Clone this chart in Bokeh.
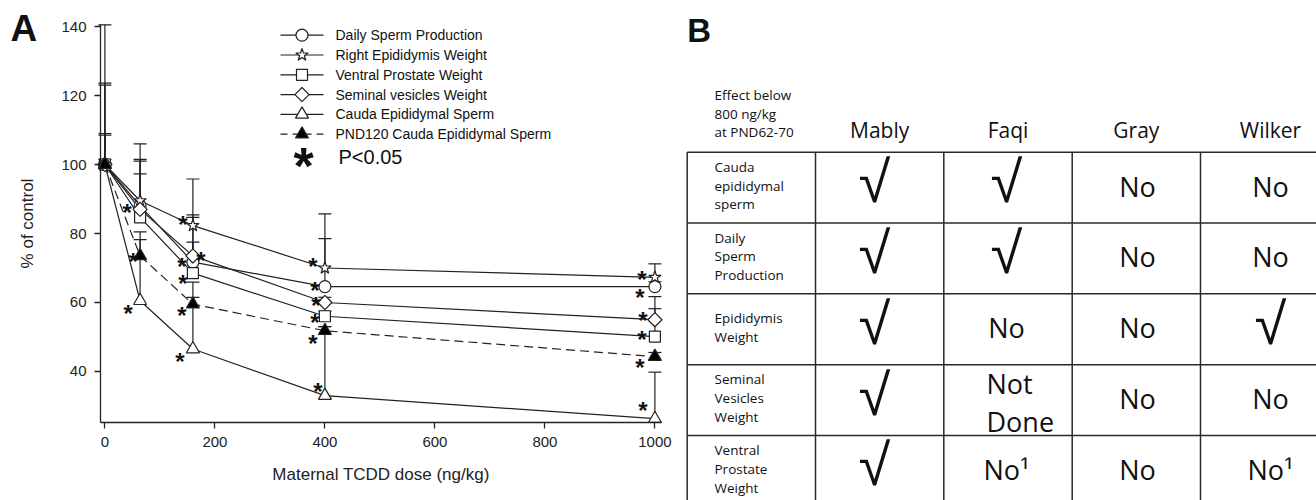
import math
from bokeh.plotting import figure
from bokeh.models import Range1d, Whisker, TeeHead, ColumnDataSource, FixedTicker
from bokeh.embed import file_html
from bokeh.resources import INLINE
from bokeh.core.properties import value

# ---------------- data (panel A) ----------------
doses = [0, 64, 160, 400, 1000]

daily_sperm = [100.0, 88.0, 71.7, 64.6, 64.6]
epididymis = [100.0, 89.5, 82.3, 70.0, 67.3]
prostate = [100.0, 84.7, 68.5, 56.0, 50.1]
vesicles = [100.0, 87.0, 73.5, 60.0, 55.0]
cauda = [100.0, 60.5, 46.5, 33.0, 26.3]
cauda_pnd120 = [100.0, 73.5, 59.5, 51.8, 44.3]

# upper ends of the error bars
daily_upper = [108.5, 101.5, 84.7, 78.5, 66.0]
epididymis_upper = [109.0, 106.0, 95.8, 85.7, 71.2]
prostate_upper = [123.0, 97.3, 77.5, 57.5, 58.2]
vesicles_upper = [101.5, 101.0, 85.4, 61.5, 61.7]
cauda_upper = [140.5, 78.2, 65.9, 53.0, 39.8]
pnd120_upper = [123.6, 80.5, 61.5, 53.0, 45.5]

# significance (P<0.05) per dose
daily_sig = [0, 0, 1, 1, 1]
epididymis_sig = [0, 0, 1, 1, 1]
prostate_sig = [0, 0, 1, 1, 1]
vesicles_sig = [0, 1, 1, 1, 1]
cauda_sig = [0, 1, 1, 1, 1]
pnd120_sig = [0, 1, 1, 1, 1]

series_names = ["Daily Sperm Production", "Right Epididymis Weight",
                "Ventral Prostate Weight", "Seminal vesicles Weight",
                "Cauda Epididymal Sperm", "PND120 Cauda Epididymal Sperm"]
x_ticks = [0, 200, 400, 600, 800, 1000]
y_ticks = [40, 60, 80, 100, 120, 140]

# ---------------- data (panel B) ----------------
header_note = ["Effect below", "800 ng/kg", "at PND62-70"]
studies = ["Mably", "Faqi", "Gray", "Wilker"]
endpoints = [["Cauda", "epididymal", "sperm"],
             ["Daily", "Sperm", "Production"],
             ["Epididymis", "Weight"],
             ["Seminal", "Vesicles", "Weight"],
             ["Ventral", "Prostate", "Weight"]]
mably = ["√", "√", "√", "√", "√"]
faqi = ["√", "√", "No", "Not\nDone", "No¹"]
gray = ["No", "No", "No", "No", "No"]
wilker = ["No", "No", "√", "No", "No¹"]

# ================= layout constants =================
W, H = 1316, 500
A_LEFT, A_RIGHT, A_TOP, A_BOTTOM = 100, 661, 24, 422
XMIN, XMAX, YMIN, YMAX = -8, 1012, 25.2, 140.6
kx = (XMAX - XMIN) / (A_RIGHT - A_LEFT)
ky = (YMAX - YMIN) / (A_BOTTOM - A_TOP)

FONT = "Liberation Sans"
TFONT = "Open Sans"
INK = "#222222"

p = figure(width=W, height=H,
           x_range=Range1d(XMIN - A_LEFT * kx, XMAX + (W - A_RIGHT) * kx),
           y_range=Range1d(YMIN - (H - A_BOTTOM) * ky, YMAX + A_TOP * ky),
           output_backend="svg", toolbar_location=None,
           min_border=0, min_border_left=0, min_border_right=0,
           min_border_top=0, min_border_bottom=0)
p.extra_x_ranges = {"px": Range1d(0, W)}
p.extra_y_ranges = {"px": Range1d(H, 0)}
p.outline_line_color = None
p.grid.grid_line_color = None
p.background_fill_color = "white"
p.border_fill_color = "white"

for ax in (p.xaxis[0], p.yaxis[0]):
    ax.axis_line_color = INK
    ax.axis_line_width = 1.3
    ax.major_tick_line_color = INK
    ax.major_tick_line_width = 1.3
    ax.major_tick_in = 0
    ax.major_tick_out = 6
    ax.minor_tick_line_color = None
    ax.major_label_text_font = FONT
    ax.major_label_text_font_size = "15px"
    ax.major_label_text_color = INK
    ax.axis_label_text_font = FONT
    ax.axis_label_text_font_size = "17px"
    ax.axis_label_text_font_style = "normal"
    ax.axis_label_text_color = INK
    ax.major_label_standoff = 8
p.xaxis.fixed_location = YMIN
p.yaxis.fixed_location = XMIN
p.xaxis.bounds = (XMIN, XMAX)
p.yaxis.bounds = (YMIN, YMAX)
p.xaxis.ticker = FixedTicker(ticks=x_ticks)
p.yaxis.ticker = FixedTicker(ticks=y_ticks)
p.xaxis.axis_label = "Maternal TCDD dose (ng/kg)"
p.yaxis.axis_label = "% of control"
p.xaxis.axis_label_standoff = 15
p.yaxis.axis_label_standoff = 21

styles = [
    dict(marker="circle", size=12, angle=0.0, fill="white", dash="solid"),
    dict(marker="star", size=13, angle=0.0, fill="white", dash="solid"),
    dict(marker="square", size=11, angle=0.0, fill="white", dash="solid"),
    dict(marker="square", size=10, angle=math.pi / 4, fill="white", dash="solid"),
    dict(marker="triangle", size=13, angle=0.0, fill="white", dash="solid"),
    dict(marker="triangle", size=13, angle=0.0, fill="black", dash="9 5"),
]
values = [daily_sperm, epididymis, prostate, vesicles, cauda, cauda_pnd120]
uppers = [daily_upper, epididymis_upper, prostate_upper, vesicles_upper, cauda_upper, pnd120_upper]
sigs = [daily_sig, epididymis_sig, prostate_sig, vesicles_sig, cauda_sig, pnd120_sig]
# asterisk placement offsets (pixels, relative to the point)
ast_off = [
    [None, None, (-11, 0), (-10, 0), (-15, 7)],
    [None, None, (-10, -5), (-12, -6), (-13, -2)],
    [None, None, (-10, 6), (-10, 2), (-13, -1)],
    [None, (-13, -1), (8, 1), (-9, -1), (-12, -3)],
    [None, (-12, 9), (-13, 8), (-7, -8), (-12, -12)],
    [None, (-7, 2), (-11, 7), (-12, 9), (-15, 7)],
]

# error bars (upper only)
for vals, ups in zip(values, uppers):
    src = ColumnDataSource(dict(base=doses, lower=vals, upper=ups))
    p.add_layout(Whisker(source=src, base="base", lower="lower", upper="upper", dimension="height",
                         line_color=INK, line_width=1.2, level="underlay",
                         upper_head=TeeHead(size=13, line_color=INK, line_width=1.2),
                         lower_head=None))

for vals, st in zip(values, styles):
    p.line(doses, vals, line_color=INK, line_width=1.2, line_dash=st["dash"])
for vals, st in zip(values, styles):
    p.scatter(doses, vals, marker=st["marker"], size=st["size"], angle=st["angle"],
              fill_color=st["fill"], line_color=INK, line_width=1.2)

# asterisks
AST_FS = 24
axs, ays, dxs, dys = [], [], [], []
for vals, sg, offs in zip(values, sigs, ast_off):
    for i, d in enumerate(doses):
        if sg[i] and offs[i] is not None:
            axs.append(d); ays.append(vals[i])
            dxs.append(offs[i][0]); dys.append(offs[i][1] + 0.17 * AST_FS)
p.text(x=axs, y=ays, text=["*"] * len(axs), x_offset=dxs, y_offset=dys,
       text_font=value(FONT), text_font_size=f"{AST_FS}px", text_font_style="bold",
       text_align="center", text_baseline="middle", text_color="#111111")

# ---- legend (key drawn in page pixels) ----
LG_X0, LG_X1, LG_Y0, LG_DY = 280, 323, 34.7, 19.8
for k, st in enumerate(styles):
    yk = LG_Y0 + k * LG_DY
    p.line([LG_X0, LG_X1], [yk, yk], line_color=INK, line_width=1.2,
           line_dash=("7 5" if st["dash"] != "solid" else "solid"),
           x_range_name="px", y_range_name="px")
    p.scatter([(LG_X0 + LG_X1) / 2], [yk], marker=st["marker"], size=st["size"], angle=st["angle"],
              fill_color=st["fill"], line_color=INK, line_width=1.2,
              x_range_name="px", y_range_name="px")
p.text(x=[335] * 6, y=[LG_Y0 + k * LG_DY for k in range(6)], text=series_names,
       text_font=value(FONT), text_font_size="14px", text_baseline="middle",
       text_color="#111111", x_range_name="px", y_range_name="px")
p.text(x=[303], y=[156.5 + 0.17 * 52], text=["*"], text_font=value(FONT), text_font_size="52px",
       text_font_style="bold", text_align="center", text_baseline="middle",
       text_color="#111111", x_range_name="px", y_range_name="px")
p.text(x=[338], y=[156.7], text=["P<0.05"], text_font=value(FONT), text_font_size="20px",
       text_baseline="middle", text_color="#111111", x_range_name="px", y_range_name="px")

# panel letters
p.text(x=[10, 686.7], y=[28.3, 30.0], text=["A", "B"], text_font=value(FONT),
       text_font_size=["37px", "33px"], text_font_style="bold", text_baseline="middle",
       text_color="#111111", x_range_name="px", y_range_name="px")

# ================= panel B (table) =================
col_edges = [686.7, 815.0, 943.3, 1071.7, 1200.0, 1340.0]
row_edges = [151.7, 222.5, 293.3, 364.2, 435.0, 505.8]
content_x = [874.0, 1006.0, 1137.0, 1270.0]
label_x = 714.0

p.segment(x0=col_edges[:-1], y0=[row_edges[0]] * 5, x1=col_edges[:-1], y1=[row_edges[-1]] * 5,
          line_color="#2a2a2a", line_width=1.5, x_range_name="px", y_range_name="px")
p.segment(x0=[col_edges[0]] * 6, y0=row_edges, x1=[col_edges[-1]] * 6, y1=row_edges,
          line_color="#2a2a2a", line_width=1.5, x_range_name="px", y_range_name="px")

p.text(x=[label_x] * 3, y=[94.2 + 18.8 * k for k in range(3)], text=header_note,
       text_font=value(TFONT), text_font_size="13.5px", text_baseline="middle",
       text_color="#111111", x_range_name="px", y_range_name="px")
p.text(x=[(col_edges[1] + col_edges[2]) / 2, (col_edges[2] + col_edges[3]) / 2,
          (col_edges[3] + col_edges[4]) / 2, content_x[3]],
       y=[129.2] * 4, text=studies, text_font=value(TFONT), text_font_size="21px",
       text_align="center", text_baseline="middle", text_color="#111111",
       x_range_name="px", y_range_name="px")

lx, ly, lt = [], [], []
for r, lines in enumerate(endpoints):
    rc = (row_edges[r] + row_edges[r + 1]) / 2 - 2
    n = len(lines)
    for k, t in enumerate(lines):
        lx.append(label_x); ly.append(rc - (n - 1) / 2 * 18.7 + k * 18.7); lt.append(t)
p.text(x=lx, y=ly, text=lt, text_font=value(TFONT), text_font_size="13.5px",
       text_baseline="middle", text_color="#111111", x_range_name="px", y_range_name="px")

cx, cy, ct = [], [], []
qx, qy, qt = [], [], []
nx, ny, nt = [], [], []
for c, colvals in enumerate([mably, faqi, gray, wilker]):
    for r, t in enumerate(colvals):
        rc = (row_edges[r] + row_edges[r + 1]) / 2
        if t == "√":
            qx.append(content_x[c]); qy.append(rc - 6); qt.append(t)
        elif "\n" in t:
            parts = t.split("\n")
            for k, part in enumerate(parts):
                nx.append(986.0); ny.append(rc + 2.5 + (k - 0.5) * 37.5); nt.append(part)
        else:
            cx.append(content_x[c]); cy.append(rc - 1.5); ct.append(t)
p.text(x=cx, y=cy, text=ct, text_font=value(TFONT), text_font_size="27px",
       text_align="center", text_baseline="middle", text_color="#111111",
       x_range_name="px", y_range_name="px")
p.text(x=nx, y=ny, text=nt, text_font=value(TFONT), text_font_size="27px",
       text_align="left", text_baseline="middle", text_color="#111111",
       x_range_name="px", y_range_name="px")
p.text(x=qx, y=qy, text=qt, text_font=value(FONT), text_font_size="58px",
       text_align="center", text_baseline="middle", text_color="#111111",
       x_range_name="px", y_range_name="px")

open("out.html", "w").write(file_html(p, INLINE))
